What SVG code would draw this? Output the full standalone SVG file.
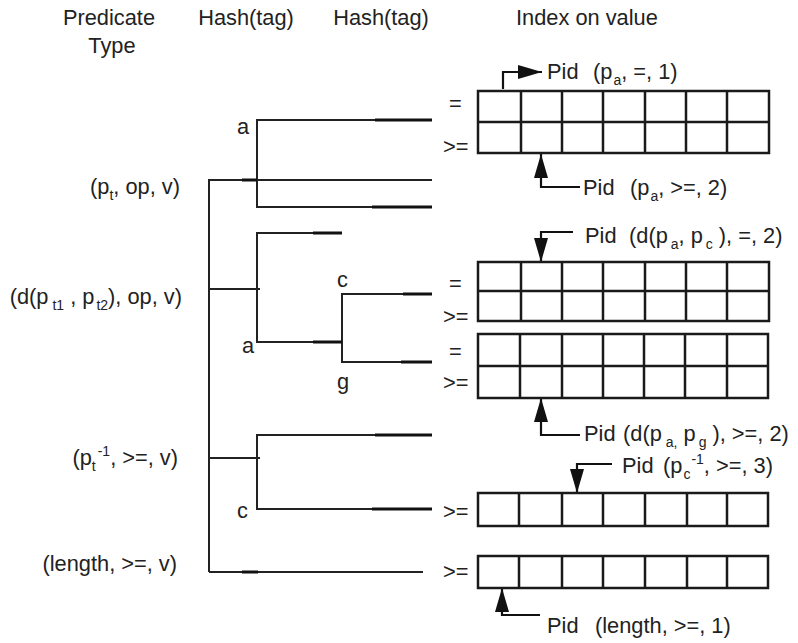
<svg xmlns="http://www.w3.org/2000/svg" width="798" height="643" viewBox="0 0 798 643">
<style>
text{font-family:"Liberation Sans",Arial,Helvetica,sans-serif;font-size:21.8px;fill:#222}
.sub{font-size:14px}
.ln{fill:none;stroke:#222;stroke-width:2}
.thk{fill:none;stroke:#111;stroke-width:3.2}
.tb{fill:none;stroke:#1a1a1a;stroke-width:2.5}
.ar{fill:none;stroke:#111;stroke-width:2.2}
</style>
<defs>
<marker id="ah" markerUnits="userSpaceOnUse" markerWidth="24" markerHeight="16" refX="24" refY="8" orient="auto">
<path d="M0,1 L24,8 L0,15 z" fill="#111"/>
</marker>
</defs>
<rect width="798" height="643" fill="#fff"/>

<g id="headers">
<text x="109" y="25" text-anchor="middle">Predicate</text>
<text x="112" y="53" text-anchor="middle">Type</text>
<text x="246" y="25" text-anchor="middle">Hash(tag)</text>
<text x="381" y="25" text-anchor="middle">Hash(tag)</text>
<text x="516" y="25">Index on value</text>
</g>

<g id="pred-pt">
<text x="180" y="194" text-anchor="end">(p<tspan class="sub" dy="6">t</tspan><tspan dy="-6">, op, v)</tspan></text>
</g>
<g id="pred-d">
<text x="182" y="304" text-anchor="end">(d(p<tspan class="sub" dx="4" dy="6">t1</tspan><tspan dy="-6"> , p</tspan><tspan class="sub" dx="2" dy="6">t2</tspan><tspan dy="-6">), op, v)</tspan></text>
</g>
<g id="pred-inv">
<text x="178" y="465" text-anchor="end">(p<tspan class="sub" dy="6">t</tspan><tspan class="sub" dx="2" dy="-15">-1</tspan><tspan dy="9">, &gt;=, v)</tspan></text>
</g>
<g id="pred-len">
<text x="177" y="571" text-anchor="end">(length, &gt;=, v)</text>
</g>

<g id="tags">
<text x="237" y="134">a</text>
<text x="242" y="353">a</text>
<text x="337" y="287">c</text>
<text x="337" y="389">g</text>
<text x="237" y="518">c</text>
</g>

<g id="connectors">
<path class="ln" d="M209 572 V180 H432"/>
<path class="ln" d="M432 120 H257 V207 H432"/>
<path class="ln" d="M209 289 H260"/>
<path class="ln" d="M342 233 H257 V342 H342"/>
<path class="ln" d="M432 294 H342 V362 H432"/>
<path class="ln" d="M209 458 H260"/>
<path class="ln" d="M432 435 H257 V509 H432"/>
<path class="ln" d="M209 572 H423"/>
<path class="thk" d="M242 180 H257 M375 120 H432 M372 207 H432 M313 233 H342 M313 342 H342 M403 294 H432 M401 362 H432 M375 435 H432 M372 509 H432 M242 572 H258"/>
<path class="ar" d="M503 89 V72 H542" marker-end="url(#ah)"/>
<path class="ar" d="M580 187 H541 V154" marker-end="url(#ah)"/>
<path class="ar" d="M573 232 H541 V262" marker-end="url(#ah)"/>
<path class="ar" d="M580 435 H541 V398" marker-end="url(#ah)"/>
<path class="ar" d="M612 464 H577 V493" marker-end="url(#ah)"/>
<path class="ar" d="M540 615 H502 V588" marker-end="url(#ah)"/>
</g>

<g id="table1">
<rect class="tb" x="478" y="91" width="291" height="62"/>
<path class="tb" d="M478 122 H769 M521 91 V153 M562 91 V153 M603 91 V153 M645 91 V153 M686 91 V153 M727 91 V153"/>
<text x="449" y="111">=</text>
<text x="443" y="154">&gt;=</text>
</g>
<g id="table2">
<rect class="tb" x="478" y="262" width="291" height="59"/>
<path class="tb" d="M478 291 H769 M521 262 V321 M562 262 V321 M603 262 V321 M645 262 V321 M686 262 V321 M727 262 V321"/>
<text x="449" y="291">=</text>
<text x="443" y="324">&gt;=</text>
</g>
<g id="table3">
<rect class="tb" x="478" y="334" width="290" height="64"/>
<path class="tb" d="M478 366 H768 M520 334 V398 M562 334 V398 M603 334 V398 M644 334 V398 M685 334 V398 M727 334 V398"/>
<text x="449" y="359">=</text>
<text x="443" y="390">&gt;=</text>
</g>
<g id="table4">
<rect class="tb" x="478" y="493" width="290" height="33"/>
<path class="tb" d="M519 493 V526 M562 493 V526 M603 493 V526 M645 493 V526 M687 493 V526 M727 493 V526"/>
<text x="443" y="519">&gt;=</text>
</g>
<g id="table5">
<rect class="tb" x="478" y="556" width="290" height="32"/>
<path class="tb" d="M519 556 V588 M562 556 V588 M603 556 V588 M645 556 V588 M687 556 V588 M727 556 V588"/>
<text x="443" y="579">&gt;=</text>
</g>

<g id="pid1">
<text x="547" y="79">Pid</text>
<text x="593" y="79">(p<tspan class="sub" dx="1" dy="6">a</tspan><tspan dy="-6">, =, 1)</tspan></text>
</g>
<g id="pid2">
<text x="583" y="195">Pid</text>
<text x="630" y="195">(p<tspan class="sub" dx="1" dy="6">a</tspan><tspan dy="-6">, &gt;=, 2)</tspan></text>
</g>
<g id="pid3">
<text x="585" y="243">Pid</text>
<text x="629" y="243">(d(p<tspan class="sub" dx="3" dy="6">a</tspan><tspan dy="-6">, p</tspan><tspan class="sub" dx="3" dy="6">c</tspan><tspan dy="-6"> ), =, 2)</tspan></text>
</g>
<g id="pid4">
<text x="584" y="441">Pid</text>
<text x="623" y="441">(d(p<tspan class="sub" dx="4" dy="6">a,</tspan><tspan dy="-6"> p</tspan><tspan class="sub" dx="3" dy="6">g</tspan><tspan dy="-6"> ), &gt;=, 2)</tspan></text>
</g>
<g id="pid5">
<text x="622" y="473">Pid</text>
<text x="663" y="473">(p<tspan class="sub" dx="1" dy="6">c</tspan><tspan class="sub" dx="1" dy="-15">-1</tspan><tspan dy="9">, &gt;=, 3)</tspan></text>
</g>
<g id="pid6">
<text x="547" y="633">Pid</text>
<text x="595" y="633">(length, &gt;=, 1)</text>
</g>
</svg>
